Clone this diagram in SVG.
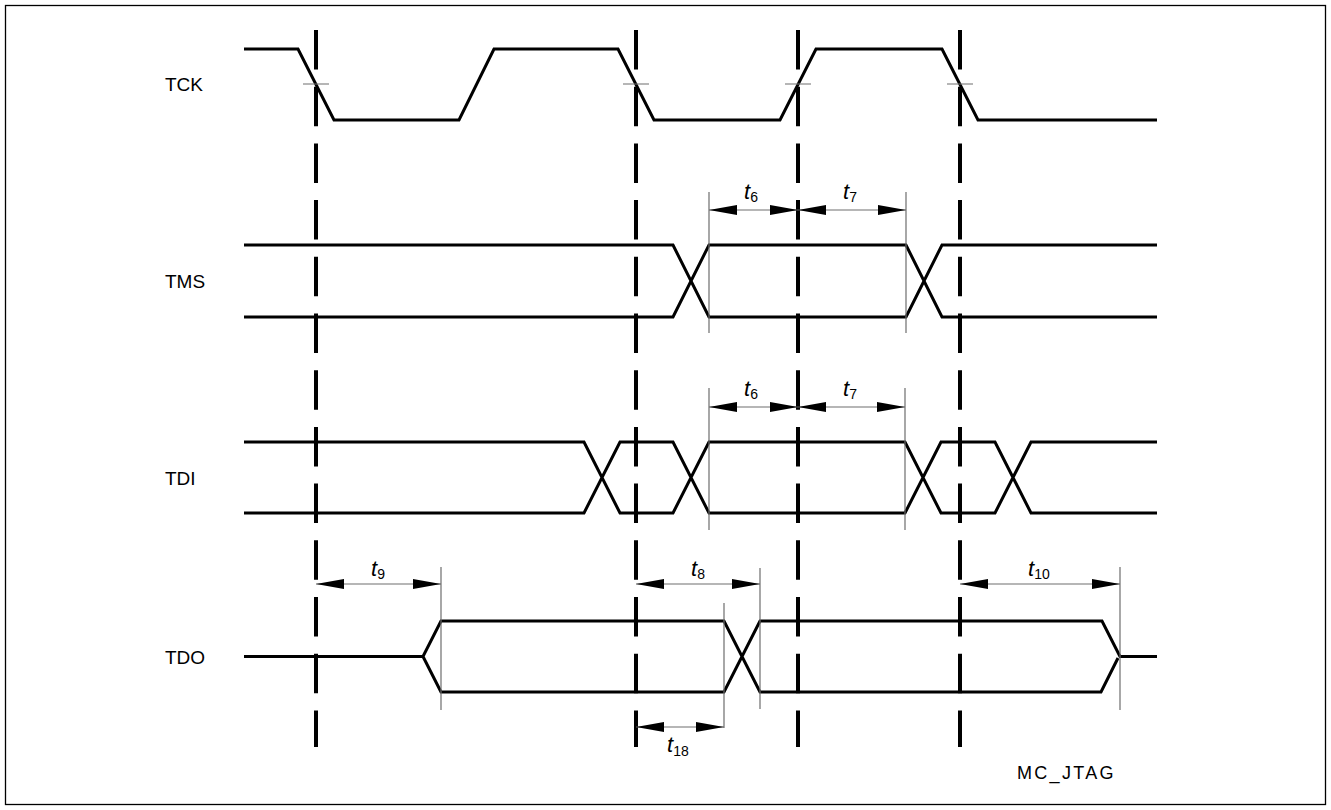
<svg xmlns="http://www.w3.org/2000/svg" width="1331" height="810" viewBox="0 0 1331 810">
<style>
.sig{fill:none;stroke:#000;stroke-width:3;stroke-linejoin:miter}
.ref{fill:none;stroke:#6e6e6e;stroke-width:1.2}
.dash{fill:none;stroke:#000;stroke-width:4;stroke-dasharray:39.5 17.2}
.arr{fill:none;stroke:#6e6e6e;stroke-width:1.2;marker-start:url(#ah);marker-end:url(#ah)}
.lbl{font-family:"Liberation Sans",Arial,sans-serif;font-size:19px;fill:#000}
.tl{font-family:"Liberation Sans",Arial,sans-serif;font-size:22px;font-style:italic;fill:#000}
.sub{font-size:14px;font-style:normal}
</style>
<defs>
<marker id="ah" markerUnits="userSpaceOnUse" markerWidth="29" markerHeight="11" refX="28" refY="5" orient="auto-start-reverse" viewBox="0 0 29 11">
<path d="M0,0 L28,5 L0,10 z" fill="#000"/>
</marker>
</defs>
<rect x="5.5" y="5.5" width="1320" height="799" fill="#fff" stroke="#000" stroke-width="1.3"/>

<g id="TCK">
<text class="lbl" x="165" y="91">TCK</text>
<path class="sig" d="M244,49 H298 L334,120 H459 L494,49 H618 L654,120 H780 L816,49 H942 L978,120 H1157"/>
<path class="ref" d="M303,84 H329 M623,84 H649 M785,84 H811 M947,84 H973"/>
</g>

<g id="TMS">
<text class="lbl" x="165" y="288">TMS</text>
<path class="sig" d="M244,245 H673 L709,317 H906 L942,245 H1157 M244,317 H673 L709,245 H906 L942,317 H1157"/>
<path class="ref" d="M709,192 V333 M906,192 V333"/>
</g>

<g id="TDI">
<text class="lbl" x="165" y="485">TDI</text>
<path class="sig" d="M244,442 H584 L620,513 H673 L709,442 H905 L941,513 H995 L1031,442 H1157 M244,513 H584 L620,442 H673 L709,513 H905 L941,442 H995 L1031,513 H1157"/>
<path class="ref" d="M709,388 V530 M905,388 V530"/>
</g>

<g id="TDO">
<text class="lbl" x="165" y="664">TDO</text>
<path class="sig" d="M244,656.5 H423 L441,621 H724 L760,692 H1101 L1118,658 M423,656.5 L441,692 H724 L760,621 H1102 L1120,656.5 H1157"/>
<path class="ref" d="M441,567 V710 M760,568 V709 M724,603 V728 M1120,567 V710"/>
</g>

<g id="connectors">
<path class="dash" d="M316,30 V747 M636,30 V747 M798,30 V747 M960,30 V747"/>
<path class="arr" d="M709,210 H798"/>
<path class="arr" d="M798,210 H906"/>
<path class="arr" d="M709,407 H798"/>
<path class="arr" d="M798,407 H905"/>
<path class="arr" d="M316,584 H441"/>
<path class="arr" d="M636,584 H760"/>
<path class="arr" d="M960,584 H1120"/>
<path class="arr" d="M636,727 H724"/>
</g>

<g id="labels">
<text class="tl" x="744" y="199">t<tspan class="sub" dy="3">6</tspan></text>
<text class="tl" x="843" y="199">t<tspan class="sub" dy="3">7</tspan></text>
<text class="tl" x="744" y="396">t<tspan class="sub" dy="3">6</tspan></text>
<text class="tl" x="843" y="396">t<tspan class="sub" dy="3">7</tspan></text>
<text class="tl" x="371" y="576">t<tspan class="sub" dy="3">9</tspan></text>
<text class="tl" x="691" y="576">t<tspan class="sub" dy="3">8</tspan></text>
<text class="tl" x="1028" y="576">t<tspan class="sub" dy="3">10</tspan></text>
<text class="tl" x="667" y="752">t<tspan class="sub" dy="4">18</tspan></text>
<text class="lbl" x="1017" y="779" style="font-size:18px;letter-spacing:2.3px">MC_JTAG</text>
</g>
</svg>
